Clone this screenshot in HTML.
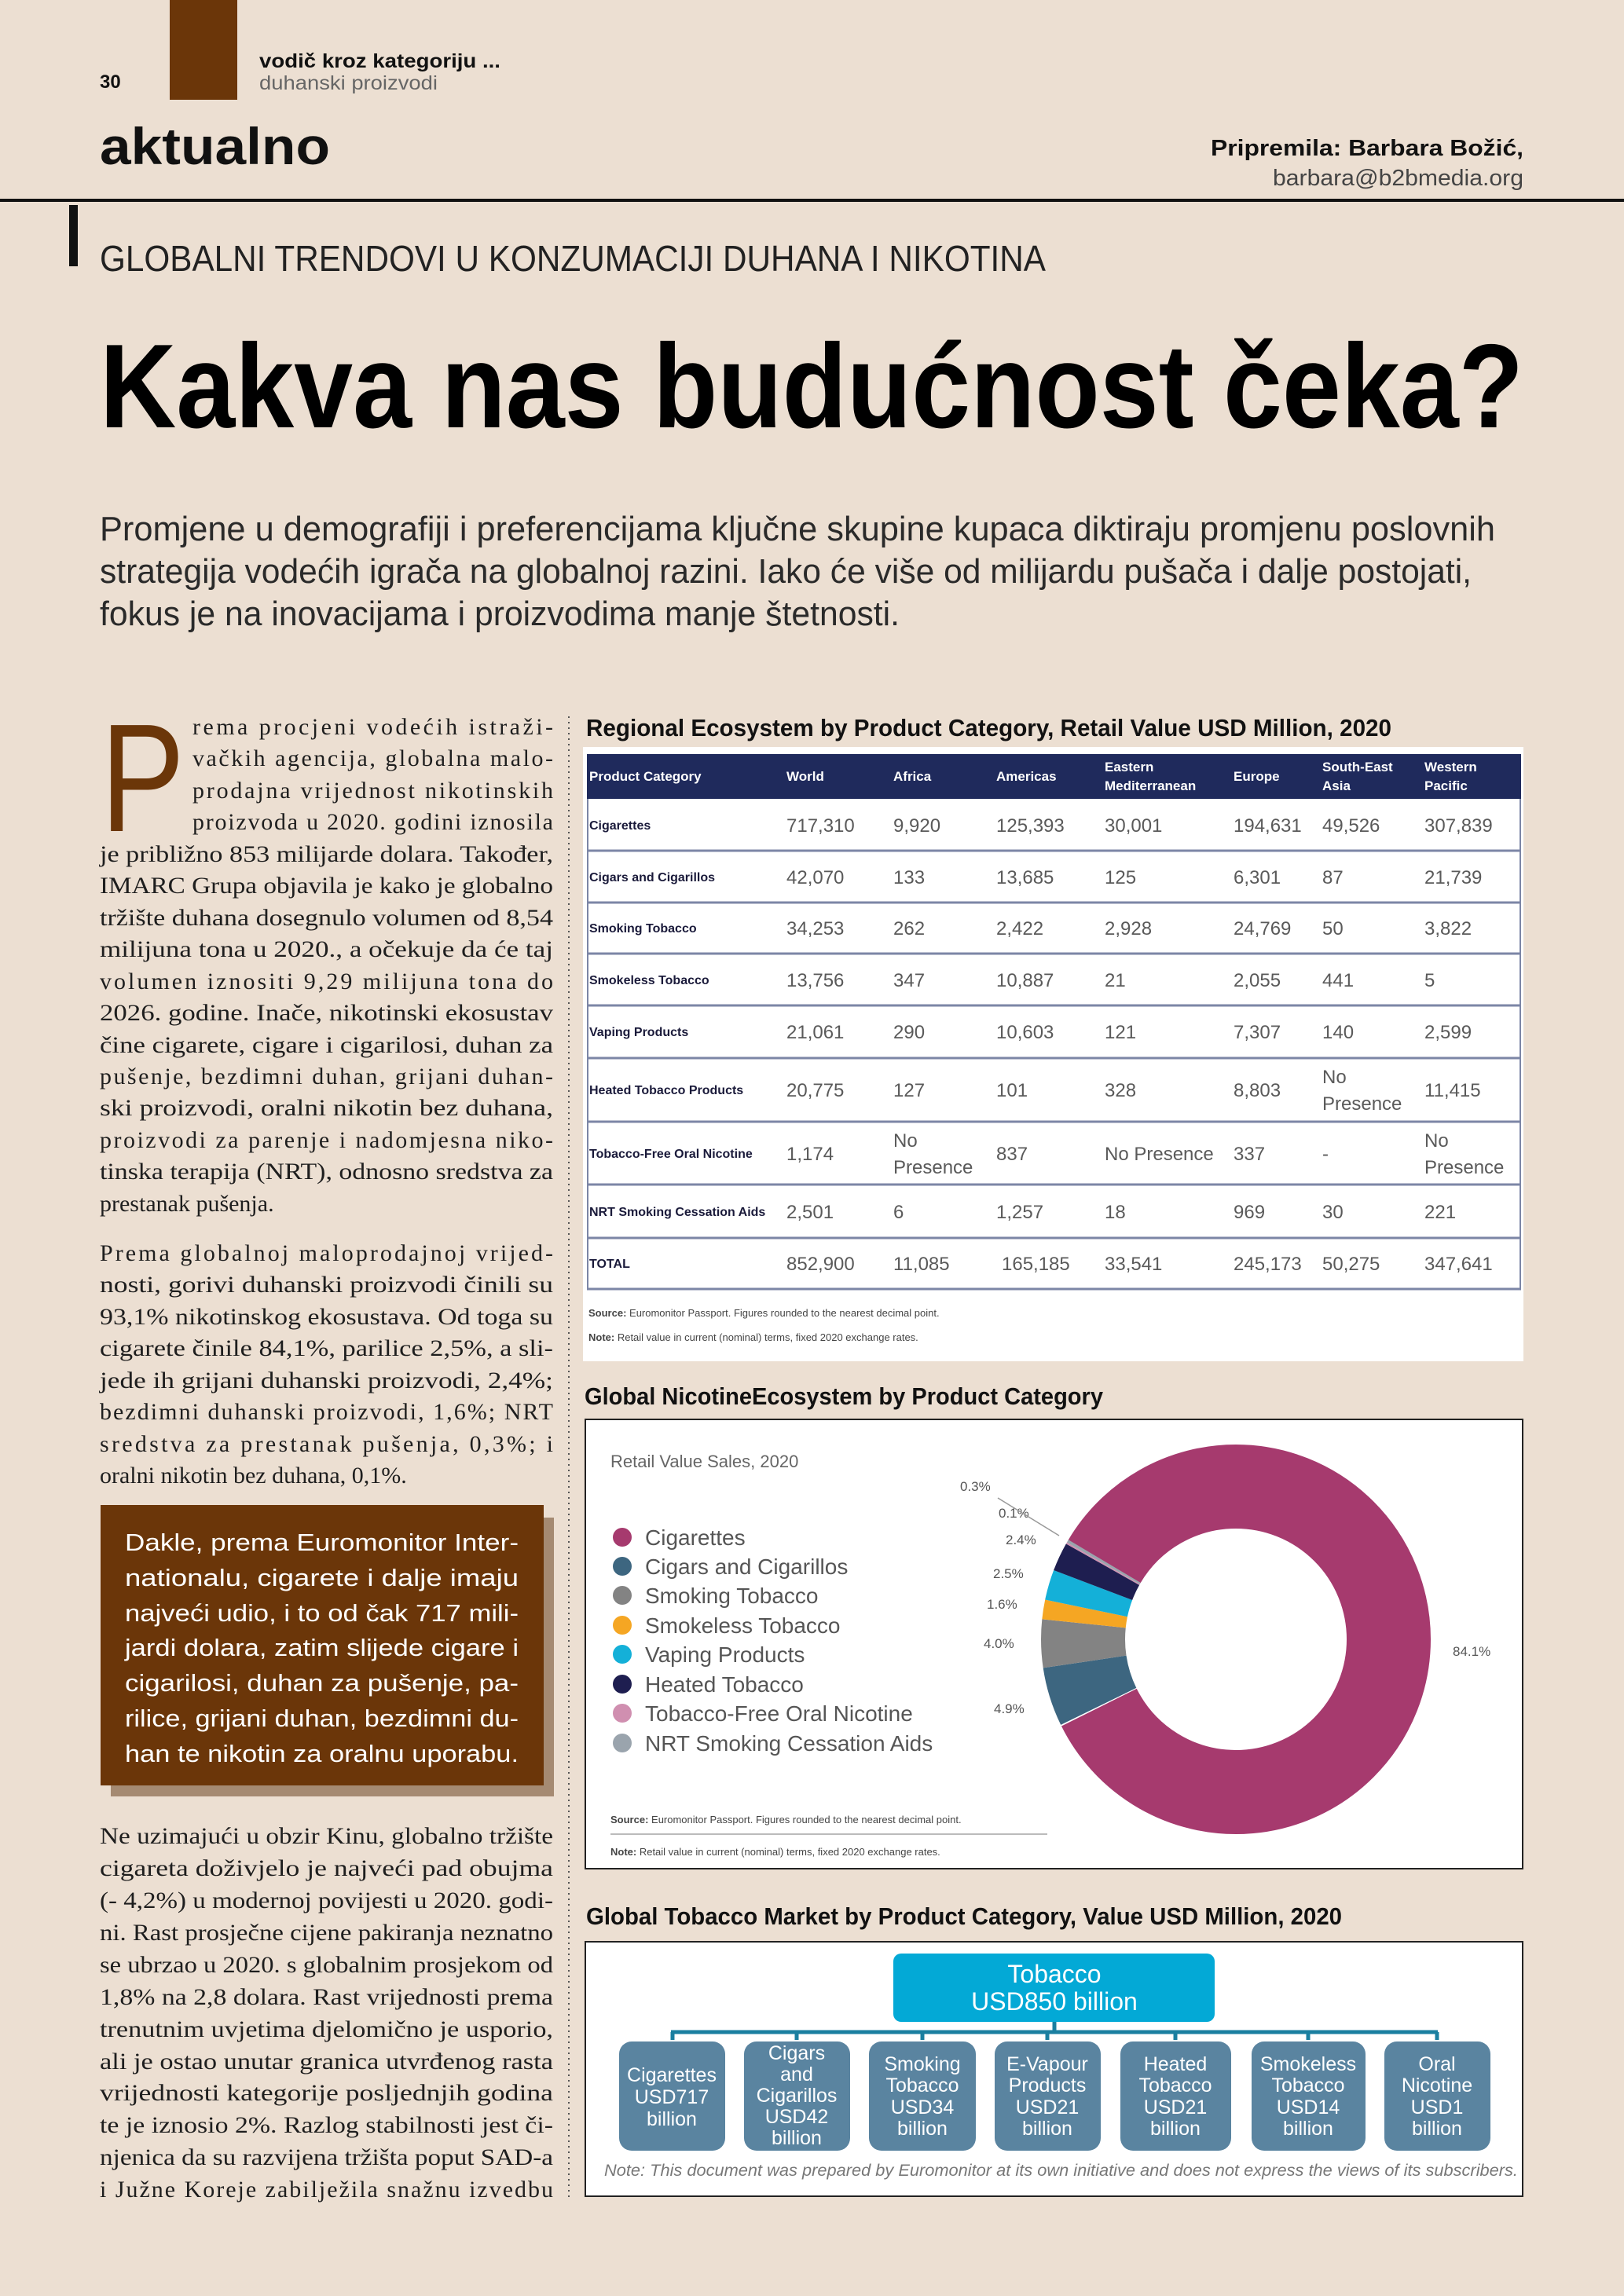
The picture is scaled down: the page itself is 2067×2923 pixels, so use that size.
<!DOCTYPE html>
<html><head><meta charset="utf-8"><style>
html,body{margin:0;padding:0;background:#ecdfd2;}
svg{display:block;}
.s{font-family:"Liberation Serif",serif;font-size:30px;fill:#1e1e1e;}
.b{font-family:"Liberation Sans",sans-serif;}
</style></head><body>
<svg width="2067" height="2923" viewBox="0 0 2067 2923" xmlns="http://www.w3.org/2000/svg">
<rect width="2067" height="2923" fill="#ecdfd2"/>
<!-- header -->
<rect x="216" y="0" width="86" height="127" fill="#6b3609"/>
<text x="127" y="112" class="b" font-size="24" font-weight="bold" fill="#111">30</text>
<text x="330" y="86" class="b" font-size="25" font-weight="bold" fill="#111" textLength="307" lengthAdjust="spacingAndGlyphs">vodič kroz kategoriju ...</text>
<text x="330" y="114" class="b" font-size="25" fill="#666" textLength="227" lengthAdjust="spacingAndGlyphs">duhanski proizvodi</text>
<text x="127" y="209" class="b" font-size="66" font-weight="bold" fill="#111" textLength="293" lengthAdjust="spacingAndGlyphs">aktualno</text>
<text x="1939" y="198" class="b" font-size="29" font-weight="bold" fill="#111" text-anchor="end" textLength="398" lengthAdjust="spacingAndGlyphs">Pripremila: Barbara Božić,</text>
<text x="1939" y="236" class="b" font-size="29" fill="#444" text-anchor="end" textLength="319" lengthAdjust="spacingAndGlyphs">barbara@b2bmedia.org</text>
<rect x="0" y="253" width="2067" height="4" fill="#111"/>
<rect x="88" y="261" width="11" height="78" fill="#111"/>
<text x="127" y="345" class="b" font-size="46" fill="#222" textLength="1204" lengthAdjust="spacingAndGlyphs">GLOBALNI TRENDOVI U KONZUMACIJI DUHANA I NIKOTINA</text>
<text x="127" y="544" class="b" font-size="152" font-weight="bold" fill="#000" textLength="1812" lengthAdjust="spacingAndGlyphs">Kakva nas budućnost čeka?</text>
<g class="b" font-size="44" fill="#2a2a2a">
<text x="127" y="688" textLength="1776" lengthAdjust="spacingAndGlyphs">Promjene u demografiji i preferencijama ključne skupine kupaca diktiraju promjenu poslovnih</text>
<text x="127" y="742" textLength="1746" lengthAdjust="spacingAndGlyphs">strategija vodećih igrača na globalnoj razini. Iako će više od milijardu pušača i dalje postojati,</text>
<text x="127" y="796" textLength="1018" lengthAdjust="spacingAndGlyphs">fokus je na inovacijama i proizvodima manje štetnosti.</text>
</g>
<!-- left column -->
<text x="128" y="1058" class="b" font-size="196" fill="#6b3609" textLength="107" lengthAdjust="spacingAndGlyphs">P</text>
<g class="s">
<text x="245" y="935" textLength="459" lengthAdjust="spacing">rema procjeni vodećih istraži-</text>
<text x="245" y="975" textLength="459" lengthAdjust="spacing">vačkih agencija, globalna malo-</text>
<text x="245" y="1016" textLength="459" lengthAdjust="spacing">prodajna vrijednost nikotinskih</text>
<text x="245" y="1056" textLength="459" lengthAdjust="spacing">proizvoda u 2020. godini iznosila</text>
<text x="127" y="1097" textLength="577" lengthAdjust="spacingAndGlyphs">je približno 853 milijarde dolara. Također,</text>
<text x="127" y="1137" textLength="577" lengthAdjust="spacingAndGlyphs">IMARC Grupa objavila je kako je globalno</text>
<text x="127" y="1178" textLength="577" lengthAdjust="spacingAndGlyphs">tržište duhana dosegnulo volumen od 8,54</text>
<text x="127" y="1218" textLength="577" lengthAdjust="spacingAndGlyphs">milijuna tona u 2020., a očekuje da će taj</text>
<text x="127" y="1259" textLength="577" lengthAdjust="spacing">volumen iznositi 9,29 milijuna tona do</text>
<text x="127" y="1299" textLength="577" lengthAdjust="spacingAndGlyphs">2026. godine. Inače, nikotinski ekosustav</text>
<text x="127" y="1340" textLength="577" lengthAdjust="spacingAndGlyphs">čine cigarete, cigare i cigarilosi, duhan za</text>
<text x="127" y="1380" textLength="577" lengthAdjust="spacing">pušenje, bezdimni duhan, grijani duhan-</text>
<text x="127" y="1420" textLength="577" lengthAdjust="spacingAndGlyphs">ski proizvodi, oralni nikotin bez duhana,</text>
<text x="127" y="1461" textLength="577" lengthAdjust="spacing">proizvodi za parenje i nadomjesna niko-</text>
<text x="127" y="1501" textLength="577" lengthAdjust="spacingAndGlyphs">tinska terapija (NRT), odnosno sredstva za</text>
<text x="127" y="1542">prestanak pušenja.</text>

<text x="127" y="1605" textLength="577" lengthAdjust="spacing">Prema globalnoj maloprodajnoj vrijed-</text>
<text x="127" y="1645" textLength="577" lengthAdjust="spacingAndGlyphs">nosti, gorivi duhanski proizvodi činili su</text>
<text x="127" y="1686" textLength="577" lengthAdjust="spacingAndGlyphs">93,1% nikotinskog ekosustava. Od toga su</text>
<text x="127" y="1726" textLength="577" lengthAdjust="spacingAndGlyphs">cigarete činile 84,1%, parilice 2,5%, a sli-</text>
<text x="127" y="1767" textLength="577" lengthAdjust="spacingAndGlyphs">jede ih grijani duhanski proizvodi, 2,4%;</text>
<text x="127" y="1807" textLength="577" lengthAdjust="spacing">bezdimni duhanski proizvodi, 1,6%; NRT</text>
<text x="127" y="1848" textLength="577" lengthAdjust="spacing">sredstva za prestanak pušenja, 0,3%; i</text>
<text x="127" y="1888">oralni nikotin bez duhana, 0,1%.</text>

<text x="127" y="2347" textLength="577" lengthAdjust="spacingAndGlyphs">Ne uzimajući u obzir Kinu, globalno tržište</text>
<text x="127" y="2388" textLength="577" lengthAdjust="spacingAndGlyphs">cigareta doživjelo je najveći pad obujma</text>
<text x="127" y="2429" textLength="577" lengthAdjust="spacingAndGlyphs">(- 4,2%) u modernoj povijesti u 2020. godi-</text>
<text x="127" y="2470" textLength="577" lengthAdjust="spacingAndGlyphs">ni. Rast prosječne cijene pakiranja neznatno</text>
<text x="127" y="2511" textLength="577" lengthAdjust="spacingAndGlyphs">se ubrzao u 2020. s globalnim prosjekom od</text>
<text x="127" y="2552" textLength="577" lengthAdjust="spacingAndGlyphs">1,8% na 2,8 dolara. Rast vrijednosti prema</text>
<text x="127" y="2593" textLength="577" lengthAdjust="spacingAndGlyphs">trenutnim uvjetima djelomično je usporio,</text>
<text x="127" y="2634" textLength="577" lengthAdjust="spacingAndGlyphs">ali je ostao unutar granica utvrđenog rasta</text>
<text x="127" y="2674" textLength="577" lengthAdjust="spacingAndGlyphs">vrijednosti kategorije posljednjih godina</text>
<text x="127" y="2715" textLength="577" lengthAdjust="spacingAndGlyphs">te je iznosio 2%. Razlog stabilnosti jest či-</text>
<text x="127" y="2756" textLength="577" lengthAdjust="spacingAndGlyphs">njenica da su razvijena tržišta poput SAD-a</text>
<text x="127" y="2797" textLength="577" lengthAdjust="spacing">i Južne Koreje zabilježila snažnu izvedbu</text>
</g>
<!-- box -->
<rect x="141" y="1932" width="564" height="355" fill="#a58a72"/>
<rect x="128" y="1916" width="564" height="357" fill="#6b3609"/>
<g class="b" font-size="31" fill="#fff">
<text x="159" y="1974" textLength="501" lengthAdjust="spacingAndGlyphs">Dakle, prema Euromonitor Inter-</text>
<text x="159" y="2019" textLength="501" lengthAdjust="spacingAndGlyphs">nationalu, cigarete i dalje imaju</text>
<text x="159" y="2064" textLength="501" lengthAdjust="spacingAndGlyphs">najveći udio, i to od čak 717 mili-</text>
<text x="159" y="2108" textLength="501" lengthAdjust="spacingAndGlyphs">jardi dolara, zatim slijede cigare i</text>
<text x="159" y="2153" textLength="501" lengthAdjust="spacingAndGlyphs">cigarilosi, duhan za pušenje, pa-</text>
<text x="159" y="2198" textLength="501" lengthAdjust="spacingAndGlyphs">rilice, grijani duhan, bezdimni du-</text>
<text x="159" y="2243" textLength="501" lengthAdjust="spacingAndGlyphs">han te nikotin za oralnu uporabu.</text>
</g>
<line x1="724" y1="912" x2="724" y2="2800" stroke="#555" stroke-width="2" stroke-dasharray="2 5"/>

<!-- Table -->
<text x="746" y="937" class="b" font-size="31" font-weight="bold" fill="#111" textLength="1025" lengthAdjust="spacingAndGlyphs">Regional Ecosystem by Product Category, Retail Value USD Million, 2020</text>
<rect x="742" y="951" width="1197" height="782" fill="#fff"/>
<rect x="747" y="960" width="1189" height="57" fill="#1f2a5c"/>
<g class="b" font-size="17" font-weight="bold" fill="#fff">
<text x="750" y="994">Product Category</text>
<text x="1001" y="994">World</text>
<text x="1137" y="994">Africa</text>
<text x="1268" y="994">Americas</text>
<text x="1406" y="982">Eastern</text><text x="1406" y="1006">Mediterranean</text>
<text x="1570" y="994">Europe</text>
<text x="1683" y="982">South-East</text><text x="1683" y="1006">Asia</text>
<text x="1813" y="982">Western</text><text x="1813" y="1006">Pacific</text>
</g>
<g stroke="#7c86a6" stroke-width="3">
<line x1="747" y1="1083" x2="1936" y2="1083"/><line x1="747" y1="1149" x2="1936" y2="1149"/>
<line x1="747" y1="1214" x2="1936" y2="1214"/><line x1="747" y1="1280" x2="1936" y2="1280"/>
<line x1="747" y1="1347" x2="1936" y2="1347"/><line x1="747" y1="1428" x2="1936" y2="1428"/>
<line x1="747" y1="1508" x2="1936" y2="1508"/><line x1="747" y1="1576" x2="1936" y2="1576"/>
<line x1="747" y1="1641" x2="1936" y2="1641"/>
<line x1="748" y1="1017" x2="748" y2="1641" stroke-width="2"/><line x1="1935" y1="1017" x2="1935" y2="1641" stroke-width="2"/>
</g>
<g class="b" font-size="16" font-weight="bold" fill="#1a1a3a">
<text x="750" y="1056">Cigarettes</text>
<text x="750" y="1122">Cigars and Cigarillos</text>
<text x="750" y="1187">Smoking Tobacco</text>
<text x="750" y="1253">Smokeless Tobacco</text>
<text x="750" y="1319">Vaping Products</text>
<text x="750" y="1393">Heated Tobacco Products</text>
<text x="750" y="1474">Tobacco-Free Oral Nicotine</text>
<text x="750" y="1548">NRT Smoking Cessation Aids</text>
<text x="750" y="1614">TOTAL</text>
</g>
<g class="b" font-size="24" fill="#5a5a5a">
<text x="1001" y="1059">717,310</text><text x="1137" y="1059">9,920</text><text x="1268" y="1059">125,393</text><text x="1406" y="1059">30,001</text><text x="1570" y="1059">194,631</text><text x="1683" y="1059">49,526</text><text x="1813" y="1059">307,839</text>
<text x="1001" y="1125">42,070</text><text x="1137" y="1125">133</text><text x="1268" y="1125">13,685</text><text x="1406" y="1125">125</text><text x="1570" y="1125">6,301</text><text x="1683" y="1125">87</text><text x="1813" y="1125">21,739</text>
<text x="1001" y="1190">34,253</text><text x="1137" y="1190">262</text><text x="1268" y="1190">2,422</text><text x="1406" y="1190">2,928</text><text x="1570" y="1190">24,769</text><text x="1683" y="1190">50</text><text x="1813" y="1190">3,822</text>
<text x="1001" y="1256">13,756</text><text x="1137" y="1256">347</text><text x="1268" y="1256">10,887</text><text x="1406" y="1256">21</text><text x="1570" y="1256">2,055</text><text x="1683" y="1256">441</text><text x="1813" y="1256">5</text>
<text x="1001" y="1322">21,061</text><text x="1137" y="1322">290</text><text x="1268" y="1322">10,603</text><text x="1406" y="1322">121</text><text x="1570" y="1322">7,307</text><text x="1683" y="1322">140</text><text x="1813" y="1322">2,599</text>
<text x="1001" y="1396">20,775</text><text x="1137" y="1396">127</text><text x="1268" y="1396">101</text><text x="1406" y="1396">328</text><text x="1570" y="1396">8,803</text><text x="1683" y="1379">No</text><text x="1683" y="1413">Presence</text><text x="1813" y="1396">11,415</text>
<text x="1001" y="1477">1,174</text><text x="1137" y="1460">No</text><text x="1137" y="1494">Presence</text><text x="1268" y="1477">837</text><text x="1406" y="1477">No Presence</text><text x="1570" y="1477">337</text><text x="1683" y="1477">-</text><text x="1813" y="1460">No</text><text x="1813" y="1494">Presence</text>
<text x="1001" y="1551">2,501</text><text x="1137" y="1551">6</text><text x="1268" y="1551">1,257</text><text x="1406" y="1551">18</text><text x="1570" y="1551">969</text><text x="1683" y="1551">30</text><text x="1813" y="1551">221</text>
<text x="1001" y="1617">852,900</text><text x="1137" y="1617">11,085</text><text x="1275" y="1617">165,185</text><text x="1406" y="1617">33,541</text><text x="1570" y="1617">245,173</text><text x="1683" y="1617">50,275</text><text x="1813" y="1617">347,641</text>
</g>
<g class="b" font-size="13" fill="#444">
<text x="749" y="1676"><tspan font-weight="bold">Source:</tspan> Euromonitor Passport. Figures rounded to the nearest decimal point.</text>
<text x="749" y="1707"><tspan font-weight="bold">Note:</tspan> Retail value in current (nominal) terms, fixed 2020 exchange rates.</text>
</g>

<!-- Donut -->
<text x="744" y="1788" class="b" font-size="31" font-weight="bold" fill="#111" textLength="660" lengthAdjust="spacingAndGlyphs">Global NicotineEcosystem by Product Category</text>
<rect x="745" y="1807" width="1193" height="572" fill="#fff" stroke="#222" stroke-width="2"/>
<text x="777" y="1868" class="b" font-size="22" fill="#666">Retail Value Sales, 2020</text>
<g fill="none" stroke-width="107">
<circle cx="1573" cy="2087" r="194.5" stroke="#a63a6e" stroke-dasharray="507.6 2000" stroke-dashoffset="-714.6"/>
<circle cx="1573" cy="2087" r="194.5" stroke="#a63a6e" stroke-dasharray="521 2000" stroke-dashoffset="0"/>
<circle cx="1573" cy="2087" r="194.5" stroke="#3d6680" stroke-dasharray="59.7 2000" stroke-dashoffset="-522.4"/>
<circle cx="1573" cy="2087" r="194.5" stroke="#838383" stroke-dasharray="48.9 2000" stroke-dashoffset="-582.1"/>
<circle cx="1573" cy="2087" r="194.5" stroke="#f5a623" stroke-dasharray="19.7 2000" stroke-dashoffset="-631"/>
<circle cx="1573" cy="2087" r="194.5" stroke="#14b0d8" stroke-dasharray="30.6 2000" stroke-dashoffset="-650.7"/>
<circle cx="1573" cy="2087" r="194.5" stroke="#1e1e50" stroke-dasharray="29.2 2000" stroke-dashoffset="-681.3"/>
<circle cx="1573" cy="2087" r="194.5" stroke="#d08fb0" stroke-dasharray="1.6 2000" stroke-dashoffset="-710.5"/>
<circle cx="1573" cy="2087" r="194.5" stroke="#9aa4ad" stroke-dasharray="3 2000" stroke-dashoffset="-712.1"/>
</g>
<g class="b" font-size="17" fill="#555">
<text x="1222" y="1898">0.3%</text>
<text x="1271" y="1932">0.1%</text>
<text x="1280" y="1966">2.4%</text>
<text x="1264" y="2009">2.5%</text>
<text x="1256" y="2048">1.6%</text>
<text x="1252" y="2098">4.0%</text>
<text x="1265" y="2181">4.9%</text>
<text x="1849" y="2108">84.1%</text>
</g>
<line x1="1270" y1="1907" x2="1348" y2="1955" stroke="#999" stroke-width="1.5"/>
<g class="b" font-size="28" fill="#555">
<circle cx="792" cy="1957" r="12" fill="#a63a6e"/><text x="821" y="1967">Cigarettes</text>
<circle cx="792" cy="1994" r="12" fill="#3d6680"/><text x="821" y="2004">Cigars and Cigarillos</text>
<circle cx="792" cy="2031" r="12" fill="#838383"/><text x="821" y="2041">Smoking Tobacco</text>
<circle cx="792" cy="2069" r="12" fill="#f5a623"/><text x="821" y="2079">Smokeless Tobacco</text>
<circle cx="792" cy="2106" r="12" fill="#14b0d8"/><text x="821" y="2116">Vaping Products</text>
<circle cx="792" cy="2144" r="12" fill="#1e1e50"/><text x="821" y="2154">Heated Tobacco</text>
<circle cx="792" cy="2181" r="12" fill="#d08fb0"/><text x="821" y="2191">Tobacco-Free Oral Nicotine</text>
<circle cx="792" cy="2219" r="12" fill="#9aa4ad"/><text x="821" y="2229">NRT Smoking Cessation Aids</text>
</g>
<g class="b" font-size="13" fill="#444">
<text x="777" y="2321"><tspan font-weight="bold">Source:</tspan> Euromonitor Passport. Figures rounded to the nearest decimal point.</text>
<line x1="777" y1="2335" x2="1333" y2="2335" stroke="#bbb" stroke-width="2"/>
<text x="777" y="2362"><tspan font-weight="bold">Note:</tspan> Retail value in current (nominal) terms, fixed 2020 exchange rates.</text>
</g>

<!-- Tree -->
<text x="746" y="2450" class="b" font-size="31" font-weight="bold" fill="#111" textLength="962" lengthAdjust="spacingAndGlyphs">Global Tobacco Market by Product Category, Value USD Million, 2020</text>
<rect x="745" y="2472" width="1193" height="324" fill="#fff" stroke="#222" stroke-width="2"/>
<rect x="1137" y="2487" width="409" height="87" rx="10" fill="#03a9d6"/>
<g class="b" font-size="32" fill="#fff" text-anchor="middle">
<text x="1342" y="2524">Tobacco</text>
<text x="1342" y="2559">USD850 billion</text>
</g>
<g stroke="#1a7fa0" stroke-width="5" fill="none">
<line x1="1342" y1="2574" x2="1342" y2="2587"/>
<line x1="854" y1="2587" x2="1830" y2="2587"/>
<line x1="856" y1="2587" x2="856" y2="2597"/><line x1="1014" y1="2587" x2="1014" y2="2597"/>
<line x1="1174" y1="2587" x2="1174" y2="2597"/><line x1="1333" y1="2587" x2="1333" y2="2597"/>
<line x1="1496" y1="2587" x2="1496" y2="2597"/><line x1="1665" y1="2587" x2="1665" y2="2597"/>
<line x1="1829" y1="2587" x2="1829" y2="2597"/>
</g>
<g fill="#5a84a0">
<rect x="788" y="2599" width="135" height="139" rx="16"/>
<rect x="947" y="2599" width="135" height="139" rx="16"/>
<rect x="1106" y="2599" width="136" height="139" rx="16"/>
<rect x="1266" y="2599" width="135" height="139" rx="16"/>
<rect x="1426" y="2599" width="141" height="139" rx="16"/>
<rect x="1593" y="2599" width="145" height="139" rx="16"/>
<rect x="1762" y="2599" width="135" height="139" rx="16"/>
</g>
<g class="b" font-size="25" fill="#fff" text-anchor="middle">
<text x="855" y="2650">Cigarettes</text><text x="855" y="2678">USD717</text><text x="855" y="2706">billion</text>
<text x="1014" y="2622">Cigars</text><text x="1014" y="2649">and</text><text x="1014" y="2676">Cigarillos</text><text x="1014" y="2703">USD42</text><text x="1014" y="2730">billion</text>
<text x="1174" y="2636">Smoking</text><text x="1174" y="2663">Tobacco</text><text x="1174" y="2691">USD34</text><text x="1174" y="2718">billion</text>
<text x="1333" y="2636">E-Vapour</text><text x="1333" y="2663">Products</text><text x="1333" y="2691">USD21</text><text x="1333" y="2718">billion</text>
<text x="1496" y="2636">Heated</text><text x="1496" y="2663">Tobacco</text><text x="1496" y="2691">USD21</text><text x="1496" y="2718">billion</text>
<text x="1665" y="2636">Smokeless</text><text x="1665" y="2663">Tobacco</text><text x="1665" y="2691">USD14</text><text x="1665" y="2718">billion</text>
<text x="1829" y="2636">Oral</text><text x="1829" y="2663">Nicotine</text><text x="1829" y="2691">USD1</text><text x="1829" y="2718">billion</text>
</g>
<text x="769" y="2770" class="b" font-size="21" font-style="italic" fill="#777" textLength="1163" lengthAdjust="spacingAndGlyphs">Note: This document was prepared by Euromonitor at its own initiative and does not express the views of its subscribers.</text>
</svg>
</body></html>
